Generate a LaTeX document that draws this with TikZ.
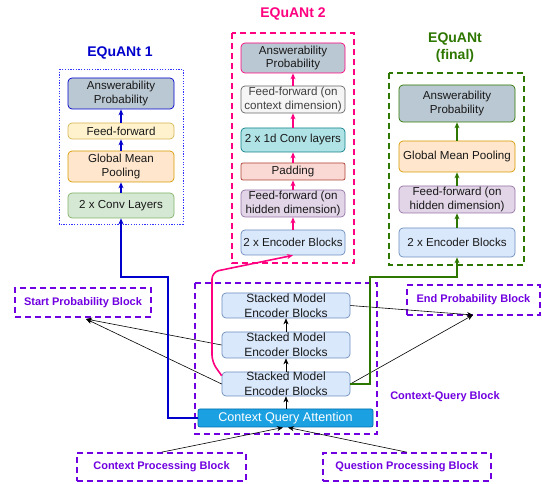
\documentclass[tikz,border=0pt]{standalone}
\usepackage{fontspec}
\setmainfont{Liberation Sans}
\usetikzlibrary{arrows.meta}
\definecolor{apfill}{HTML}{BAC8D3}
\definecolor{eqblue}{HTML}{0000CC}
\definecolor{dotblue}{HTML}{3333FF}
\definecolor{eqpink}{HTML}{FF0080}
\definecolor{eqgreen}{HTML}{2D7600}
\definecolor{eqpurple}{HTML}{7000E0}
\definecolor{ylfill}{HTML}{FFF2CC}\definecolor{ylline}{HTML}{D6B656}
\definecolor{orfill}{HTML}{FFE6CC}\definecolor{orline}{HTML}{D79B00}
\definecolor{grfill}{HTML}{D5E8D4}\definecolor{grline}{HTML}{82B366}
\definecolor{gyfill}{HTML}{F5F5F5}\definecolor{gyline}{HTML}{666666}
\definecolor{tlfill}{HTML}{B0E3E6}\definecolor{tlline}{HTML}{0E8088}
\definecolor{rdfill}{HTML}{FAD9D5}\definecolor{rdline}{HTML}{AE4132}
\definecolor{pufill}{HTML}{E1D5E7}\definecolor{puline}{HTML}{9673A6}
\definecolor{blfill}{HTML}{DAE8FC}\definecolor{blline}{HTML}{6C8EBF}
\definecolor{cqfill}{HTML}{1BA1E2}\definecolor{cqline}{HTML}{006EAF}
\begin{document}
\begin{tikzpicture}[x=1pt,y=-1pt,
  bx/.style={draw, rounded corners=4pt, inner sep=0pt, align=center, font=\fontsize{11.6}{13.8}\selectfont, text=black!90, line width=0.7pt},
  sbx/.style={bx, fill=blfill, draw=blline, font=\fontsize{12}{15}\selectfont, minimum width=128pt},
  ttl/.style={font=\fontsize{14}{17}\selectfont\bfseries, align=center},
  pbl/.style={draw=eqpurple, dashed, dash pattern=on 6pt off 4pt, line width=1.6pt, inner sep=0pt, text=eqpurple, font=\fontsize{11}{13}\selectfont\bfseries},
  tip/.style={-{Stealth[length=6pt,width=5pt]}},
  blk/.style={tip, line width=0.6pt, black},
]
\useasboundingbox (0,0) rectangle (542,484);

% ---------------- EQuANt 1 ----------------
\node[ttl, text=eqblue] (t1) at (120,53) {EQuANt 1};
\draw[dotblue, dash pattern=on 1.2pt off 1.5pt, line width=0.8pt] (59,69) rectangle (183,224);
\node[bx, fill=apfill, draw=eqblue, minimum width=106pt, minimum height=31pt] (ap1) at (121,93.5) {Answerability\\Probability};
\node[bx, fill=ylfill, draw=ylline, minimum width=106pt, minimum height=16pt] (ff1) at (121,131) {Feed-forward};
\node[bx, fill=orfill, draw=orline, minimum width=106pt, minimum height=31pt] (gmp1) at (121,166.5) {Global Mean\\Pooling};
\node[bx, fill=grfill, draw=grline, minimum width=106pt, minimum height=25pt] (cv1) at (121,205.5) {2 x Conv Layers};
\draw[tip, eqblue, line width=1.1pt] (ff1) -- (ap1);
\draw[tip, eqblue, line width=1.1pt] (gmp1) -- (ff1);
\draw[tip, eqblue, line width=1.1pt] (cv1) -- (gmp1);

% ---------------- EQuANt 2 ----------------
\node[ttl, text=eqpink] (t2) at (293,14) {EQuANt 2};
\draw[eqpink, dashed, dash pattern=on 6pt off 4pt, line width=1.6pt] (232,33) rectangle (354,263);
\node[bx, fill=apfill, draw=eqpink, minimum width=104pt, minimum height=30pt] (ap2) at (293,58) {Answerability\\Probability};
\node[bx, fill=gyfill, draw=gyline, text=black!75, minimum width=104pt, minimum height=27pt] (ffc2) at (293,99.5) {Feed-forward (on\\context dimension)};
\node[bx, fill=tlfill, draw=tlline, minimum width=104pt, minimum height=24pt] (cv2) at (293,140) {2 x 1d Conv layers};
\node[bx, fill=rdfill, draw=rdline, rounded corners=2pt, minimum width=104pt, minimum height=17pt] (pad2) at (293,171.5) {Padding};
\node[bx, fill=pufill, draw=puline, minimum width=104pt, minimum height=27pt] (ffh2) at (293,203.5) {Feed-forward (on\\hidden dimension)};
\node[bx, fill=blfill, draw=blline, minimum width=104pt, minimum height=25pt] (enc2) at (293,242.5) {2 x Encoder Blocks};
\draw[tip, eqpink, line width=1.1pt] (ffc2) -- (ap2);
\draw[tip, eqpink, line width=1.1pt] (cv2) -- (ffc2);
\draw[tip, eqpink, line width=1.1pt] (pad2) -- (cv2);
\draw[tip, eqpink, line width=1.1pt] (ffh2) -- (pad2);
\draw[tip, eqpink, line width=1.1pt] (enc2) -- (ffh2);

% ---------------- EQuANt final ----------------
\node[ttl, text=eqgreen] (t3) at (455,48) {EQuANt\\(final)};
\draw[eqgreen, dashed, dash pattern=on 6pt off 4pt, line width=1.6pt] (389,73) rectangle (524,265);
\node[bx, fill=apfill, draw=eqgreen, minimum width=116pt, minimum height=37pt] (ap3) at (457,103.5) {Answerability\\Probability};
\node[bx, fill=orfill, draw=orline, minimum width=116pt, minimum height=31pt] (gmp3) at (457,156.5) {Global Mean Pooling};
\node[bx, fill=pufill, draw=puline, minimum width=116pt, minimum height=27pt] (ffh3) at (457,199.5) {Feed-forward (on\\hidden dimension)};
\node[bx, fill=blfill, draw=blline, minimum width=116pt, minimum height=29pt] (enc3) at (457,242.5) {2 x Encoder Blocks};
\draw[tip, eqgreen, line width=1.1pt] (gmp3) -- (ap3);
\draw[tip, eqgreen, line width=1.1pt] (ffh3) -- (gmp3);
\draw[tip, eqgreen, line width=1.1pt] (enc3) -- (ffh3);

% ---------------- Context-Query block ----------------
\draw[eqpurple, dashed, dash pattern=on 6pt off 4pt, line width=1.6pt] (195,283) rectangle (377,434);
\node[text=eqpurple, font=\fontsize{11}{13}\selectfont\bfseries] (cqlabel) at (445,397) {Context-Query Block};
\node[sbx, minimum height=25pt] (s1) at (286,305.5) {Stacked Model\\Encoder Blocks};
\node[sbx, minimum height=26pt] (s2) at (286,345) {Stacked Model\\Encoder Blocks};
\node[sbx, minimum height=24pt] (s3) at (286,384) {Stacked Model\\Encoder Blocks};
\node[bx, fill=cqfill, draw=cqline, text=white, rounded corners=2pt, font=\fontsize{12.6}{14}\selectfont, minimum width=175pt, minimum height=18pt] (cqa) at (285.5,418) {Context Query Attention};
\draw[blk] (cqa.north -| s3.south) -- (s3.south);
\draw[blk] (s3) -- (s2);
\draw[blk] (s2) -- (s1);

% ---------------- outer blocks ----------------
\node[pbl, minimum width=136pt, minimum height=29pt] (start) at (83,302.5) {Start Probability Block};
\node[pbl, minimum width=133pt, minimum height=30pt] (endb) at (473.5,300) {End Probability Block};
\node[pbl, minimum width=169pt, minimum height=28pt] (cpb) at (161.5,467) {Context Processing Block};
\node[pbl, minimum width=168pt, minimum height=28pt] (qpb) at (407,467) {Question Processing Block};

\coordinate (sp) at (86,319);
\coordinate (ep) at (473,315);
\draw[blk] (s2.west) -- (sp);
\draw[blk] (s3.west) -- (sp);
\draw[blk] (s1.east) -- (ep);
\draw[blk] (s3.east) -- (ep);
\draw[blk] (cpb.north) -- (283,427.5);
\draw[blk] (qpb.north) -- (288,427.5);

% ---------------- colored connectors ----------------
\draw[tip, eqblue, line width=1.6pt] (cqa.west) -- (168,418) -- (168,277) -- (121,277) -- (cv1.south);
\draw[tip, eqgreen, line width=1.6pt] (s3.east) -- (370,384) -- (370,277) -- (457,277) -- (enc3.south);
\draw[tip, eqpink, line width=1.6pt, rounded corners=7pt] ([yshift=-4pt]s3.north west) -- (212,362) -- (212,272) -- (enc2.south);
\end{tikzpicture}
\end{document}
